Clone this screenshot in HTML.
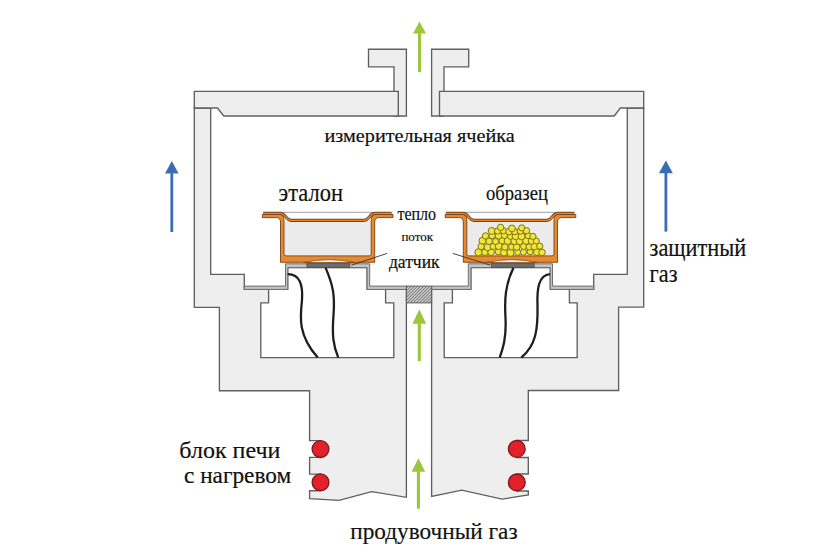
<!DOCTYPE html>
<html><head><meta charset="utf-8"><style>
html,body{margin:0;padding:0;background:#fff;}
svg{display:block;}
text{font-family:"Liberation Serif",serif;fill:#111;stroke:#111;stroke-width:0.2px;}
</style></head><body>
<svg width="840" height="560" viewBox="0 0 840 560">
<polygon points="194.30,108.00 210.70,108.00 210.70,274.30 244.30,274.30 244.30,289.40 406.40,289.40 406.40,497.30 371.70,491.70 339.00,500.30 309.60,498.70 309.60,490.70 320.50,490.70 320.50,474.10 309.60,474.10 309.60,457.40 320.50,457.40 320.50,440.60 309.60,440.60 309.60,390.70 219.40,390.70 219.40,307.40 194.30,307.40" fill="#eeeeee" stroke="#606060" stroke-width="1.35" stroke-linejoin="miter"/>
<polygon points="643.70,108.00 627.30,108.00 627.30,274.30 593.70,274.30 593.70,289.40 431.60,289.40 431.60,496.50 461.80,490.10 502.00,499.10 528.30,495.00 528.30,491.00 516.80,491.00 516.80,474.00 528.30,474.00 528.30,457.50 516.80,457.50 516.80,440.50 528.30,440.50 528.30,390.50 618.60,390.50 618.60,307.10 643.70,307.10" fill="#eeeeee" stroke="#606060" stroke-width="1.35" stroke-linejoin="miter"/>
<polygon points="268.60,289.40 287.70,289.40 287.70,267.60 367.10,267.60 367.10,289.40 385.60,289.40 385.60,302.90 393.80,302.90 393.80,357.60 260.80,357.60 260.80,302.80 268.60,302.80" fill="#fff" stroke="#606060" stroke-width="1.35"/>
<polygon points="569.40,289.40 550.30,289.40 550.30,267.60 470.90,267.60 470.90,289.40 452.40,289.40 452.40,302.90 444.20,302.90 444.20,357.60 577.20,357.60 577.20,302.80 569.40,302.80" fill="#fff" stroke="#606060" stroke-width="1.35"/>
<polygon points="368.50,49.20 406.40,49.20 406.40,116.00 394.00,116.00 394.00,66.80 368.50,66.80" fill="#eeeeee" stroke="#606060" stroke-width="1.35"/>
<polygon points="468.70,49.20 431.60,49.20 431.60,116.00 444.00,116.00 444.00,66.80 468.70,66.80" fill="#eeeeee" stroke="#606060" stroke-width="1.35"/>
<polygon points="194.30,91.30 398.30,91.30 398.30,116.00 223.75,116.00 217.50,108.00 194.30,108.00" fill="#eeeeee" stroke="#606060" stroke-width="1.35"/>
<polygon points="643.70,91.30 439.50,91.30 439.50,116.00 614.20,116.00 620.40,108.00 643.70,108.00" fill="#eeeeee" stroke="#606060" stroke-width="1.35"/>
<polygon points="244.30,286.10 285.50,286.10 285.50,263.80 369.70,263.80 369.70,286.10 406.40,286.10 406.40,289.40 367.10,289.40 367.10,267.60 287.80,267.60 287.80,289.40 244.30,289.40" fill="#c4c4c4" stroke="#6e6e6e" stroke-width="1"/>
<polygon points="593.70,286.10 552.50,286.10 552.50,263.80 468.30,263.80 468.30,286.10 431.60,286.10 431.60,289.40 470.90,289.40 470.90,267.60 550.20,267.60 550.20,289.40 593.70,289.40" fill="#c4c4c4" stroke="#6e6e6e" stroke-width="1"/>
<rect x="306.9" y="263.6" width="42.9" height="4" fill="#6c6c6c" stroke="#444" stroke-width="0.6"/>
<rect x="491.3" y="263.6" width="42.9" height="4" fill="#6c6c6c" stroke="#444" stroke-width="0.6"/>
<defs><pattern id="hatch" patternUnits="userSpaceOnUse" width="2.2" height="2.2" patternTransform="rotate(45)"><rect width="2.2" height="2.2" fill="#cacaca"/><line x1="0" y1="0" x2="0" y2="2.2" stroke="#484848" stroke-width="1.05"/></pattern></defs>
<rect x="406.4" y="286.1" width="25.2" height="16.8" fill="url(#hatch)" stroke="#606060" stroke-width="1"/>
<path d="M287.7,274.1 C300,274 303,285 302,300 C300,318 298,335 317.7,357.6" fill="none" stroke="#1e1e1e" stroke-width="2.3"/>
<path d="M325.6,267.9 C333,285 335,295 333.5,315 C332,335 333,345 338.3,357.6" fill="none" stroke="#1e1e1e" stroke-width="2.3"/>
<path d="M513.4,267.9 C505,285 504.5,300 505.5,318 C506.5,338 503,348 499.7,357.6" fill="none" stroke="#1e1e1e" stroke-width="2.3"/>
<path d="M550.1,274.1 C538,275 537,290 537.5,305 C538,330 536,345 521.3,357.6" fill="none" stroke="#1e1e1e" stroke-width="2.3"/>
<g transform="translate(327.6,0)">
<rect x="-44" y="221" width="88" height="36" fill="#ebebeb"/>
<line x1="-45" y1="212.3" x2="45" y2="212.3" stroke="#8d969e" stroke-width="0.9"/>
<path d="M-65.2,214.4 H-49 Q-43.6,214.4 -43.6,220 V253.9 Q-43.6,255.9 -41.6,255.9 H41.6 Q43.6,255.9 43.6,253.9 V220 Q43.6,214.4 49,214.4 H65.4 V217.6 H51.5 Q47.1,217.6 47.1,222 V262.3 H-47.1 V222 Q-47.1,217.6 -51.5,217.6 H-65.2 Z" fill="#e8892e" stroke="#74421a" stroke-width="0.9"/>
<path d="M-24,262.5 Q1.5,256.8 27,262.5 Z" fill="#f6f1ea" stroke="#74421a" stroke-width="0.7"/>
<path d="M-64.5,213.3 H-47 C-42,213.3 -42,220.35 -36.5,220.35 H36.5 C42,220.35 42,213.3 47,213.3 H64" fill="none" stroke="#74421a" stroke-width="3.1"/>
<path d="M-64.5,213.3 H-47 C-42,213.3 -42,220.35 -36.5,220.35 H36.5 C42,220.35 42,213.3 47,213.3 H64" fill="none" stroke="#e8892e" stroke-width="1.3"/>
</g>
<g transform="translate(510.4,0)">
<rect x="-44" y="221" width="88" height="36" fill="#ebebeb"/>
<line x1="-45" y1="212.3" x2="45" y2="212.3" stroke="#8d969e" stroke-width="0.9"/>
<path d="M-65.2,214.4 H-49 Q-43.6,214.4 -43.6,220 V253.9 Q-43.6,255.9 -41.6,255.9 H41.6 Q43.6,255.9 43.6,253.9 V220 Q43.6,214.4 49,214.4 H65.4 V217.6 H51.5 Q47.1,217.6 47.1,222 V262.3 H-47.1 V222 Q-47.1,217.6 -51.5,217.6 H-65.2 Z" fill="#e8892e" stroke="#74421a" stroke-width="0.9"/>
<path d="M-24,262.5 Q1.5,256.8 27,262.5 Z" fill="#f6f1ea" stroke="#74421a" stroke-width="0.7"/>
<path d="M-64.5,213.3 H-47 C-42,213.3 -42,220.35 -36.5,220.35 H36.5 C42,220.35 42,213.3 47,213.3 H64" fill="none" stroke="#74421a" stroke-width="3.1"/>
<path d="M-64.5,213.3 H-47 C-42,213.3 -42,220.35 -36.5,220.35 H36.5 C42,220.35 42,213.3 47,213.3 H64" fill="none" stroke="#e8892e" stroke-width="1.3"/>
</g>
<circle cx="478.4" cy="252.3" r="3.55" fill="#f2e53c" stroke="#7c7614" stroke-width="1"/>
<circle cx="485.0" cy="252.2" r="3.35" fill="#f2e53c" stroke="#7c7614" stroke-width="1"/>
<circle cx="491.1" cy="252.2" r="3.38" fill="#f2e53c" stroke="#7c7614" stroke-width="1"/>
<circle cx="498.4" cy="251.7" r="3.18" fill="#f2e53c" stroke="#7c7614" stroke-width="1"/>
<circle cx="504.0" cy="252.6" r="3.42" fill="#f2e53c" stroke="#7c7614" stroke-width="1"/>
<circle cx="510.5" cy="252.8" r="3.58" fill="#f2e53c" stroke="#7c7614" stroke-width="1"/>
<circle cx="517.7" cy="252.3" r="3.09" fill="#f2e53c" stroke="#7c7614" stroke-width="1"/>
<circle cx="523.4" cy="252.2" r="3.04" fill="#f2e53c" stroke="#7c7614" stroke-width="1"/>
<circle cx="530.1" cy="251.9" r="3.02" fill="#f2e53c" stroke="#7c7614" stroke-width="1"/>
<circle cx="537.0" cy="252.1" r="3.51" fill="#f2e53c" stroke="#7c7614" stroke-width="1"/>
<circle cx="542.0" cy="252.4" r="3.30" fill="#f2e53c" stroke="#7c7614" stroke-width="1"/>
<circle cx="481.2" cy="246.5" r="3.17" fill="#f2e53c" stroke="#7c7614" stroke-width="1"/>
<circle cx="487.6" cy="247.2" r="3.50" fill="#f2e53c" stroke="#7c7614" stroke-width="1"/>
<circle cx="493.2" cy="246.4" r="3.14" fill="#f2e53c" stroke="#7c7614" stroke-width="1"/>
<circle cx="498.7" cy="246.1" r="3.46" fill="#f2e53c" stroke="#7c7614" stroke-width="1"/>
<circle cx="504.9" cy="247.0" r="3.23" fill="#f2e53c" stroke="#7c7614" stroke-width="1"/>
<circle cx="511.5" cy="247.0" r="3.00" fill="#f2e53c" stroke="#7c7614" stroke-width="1"/>
<circle cx="516.7" cy="247.1" r="3.28" fill="#f2e53c" stroke="#7c7614" stroke-width="1"/>
<circle cx="523.6" cy="246.5" r="3.04" fill="#f2e53c" stroke="#7c7614" stroke-width="1"/>
<circle cx="529.2" cy="246.9" r="3.16" fill="#f2e53c" stroke="#7c7614" stroke-width="1"/>
<circle cx="534.5" cy="246.4" r="3.58" fill="#f2e53c" stroke="#7c7614" stroke-width="1"/>
<circle cx="539.8" cy="246.1" r="3.15" fill="#f2e53c" stroke="#7c7614" stroke-width="1"/>
<circle cx="482.5" cy="240.7" r="3.48" fill="#f2e53c" stroke="#7c7614" stroke-width="1"/>
<circle cx="489.1" cy="241.3" r="3.27" fill="#f2e53c" stroke="#7c7614" stroke-width="1"/>
<circle cx="495.6" cy="241.5" r="3.08" fill="#f2e53c" stroke="#7c7614" stroke-width="1"/>
<circle cx="502.2" cy="240.7" r="3.25" fill="#f2e53c" stroke="#7c7614" stroke-width="1"/>
<circle cx="507.7" cy="240.9" r="3.58" fill="#f2e53c" stroke="#7c7614" stroke-width="1"/>
<circle cx="514.4" cy="241.0" r="3.53" fill="#f2e53c" stroke="#7c7614" stroke-width="1"/>
<circle cx="519.7" cy="241.1" r="3.51" fill="#f2e53c" stroke="#7c7614" stroke-width="1"/>
<circle cx="526.2" cy="240.7" r="3.59" fill="#f2e53c" stroke="#7c7614" stroke-width="1"/>
<circle cx="531.7" cy="240.9" r="3.46" fill="#f2e53c" stroke="#7c7614" stroke-width="1"/>
<circle cx="536.3" cy="241.0" r="3.04" fill="#f2e53c" stroke="#7c7614" stroke-width="1"/>
<circle cx="485.5" cy="235.9" r="3.15" fill="#f2e53c" stroke="#7c7614" stroke-width="1"/>
<circle cx="492.1" cy="235.6" r="3.27" fill="#f2e53c" stroke="#7c7614" stroke-width="1"/>
<circle cx="498.6" cy="235.8" r="3.34" fill="#f2e53c" stroke="#7c7614" stroke-width="1"/>
<circle cx="504.4" cy="235.4" r="3.09" fill="#f2e53c" stroke="#7c7614" stroke-width="1"/>
<circle cx="510.5" cy="236.2" r="3.15" fill="#f2e53c" stroke="#7c7614" stroke-width="1"/>
<circle cx="515.6" cy="236.1" r="3.56" fill="#f2e53c" stroke="#7c7614" stroke-width="1"/>
<circle cx="521.6" cy="236.3" r="3.53" fill="#f2e53c" stroke="#7c7614" stroke-width="1"/>
<circle cx="528.1" cy="235.7" r="3.06" fill="#f2e53c" stroke="#7c7614" stroke-width="1"/>
<circle cx="532.9" cy="236.4" r="3.14" fill="#f2e53c" stroke="#7c7614" stroke-width="1"/>
<circle cx="491.7" cy="230.9" r="3.49" fill="#f2e53c" stroke="#7c7614" stroke-width="1"/>
<circle cx="497.6" cy="231.0" r="3.11" fill="#f2e53c" stroke="#7c7614" stroke-width="1"/>
<circle cx="503.3" cy="230.7" r="3.14" fill="#f2e53c" stroke="#7c7614" stroke-width="1"/>
<circle cx="509.1" cy="231.6" r="3.37" fill="#f2e53c" stroke="#7c7614" stroke-width="1"/>
<circle cx="514.7" cy="231.7" r="3.12" fill="#f2e53c" stroke="#7c7614" stroke-width="1"/>
<circle cx="520.4" cy="230.9" r="3.27" fill="#f2e53c" stroke="#7c7614" stroke-width="1"/>
<circle cx="526.5" cy="230.8" r="3.22" fill="#f2e53c" stroke="#7c7614" stroke-width="1"/>
<circle cx="500.6" cy="227.4" r="3.22" fill="#f2e53c" stroke="#7c7614" stroke-width="1"/>
<circle cx="512.0" cy="228.4" r="3.39" fill="#f2e53c" stroke="#7c7614" stroke-width="1"/>
<circle cx="521.7" cy="227.9" r="3.08" fill="#f2e53c" stroke="#7c7614" stroke-width="1"/>
<line x1="387.1" y1="253.4" x2="351.4" y2="265.2" stroke="#333" stroke-width="0.9"/>
<line x1="452.9" y1="253.4" x2="490.4" y2="265.2" stroke="#333" stroke-width="0.9"/>
<circle cx="320.5" cy="449.1" r="8.4" fill="#e3212b" stroke="#7a1818" stroke-width="1.3"/>
<circle cx="320.5" cy="482.3" r="8.4" fill="#e3212b" stroke="#7a1818" stroke-width="1.3"/>
<circle cx="516.8" cy="448.9" r="8.4" fill="#e3212b" stroke="#7a1818" stroke-width="1.3"/>
<circle cx="516.8" cy="482.4" r="8.4" fill="#e3212b" stroke="#7a1818" stroke-width="1.3"/>
<polygon points="413.0,33.6 419.5,21.4 426.0,33.6" fill="#9dc63c"/><rect x="417.95" y="33.1" width="3.1" height="38.99999999999999" fill="#9dc63c"/>
<polygon points="412.5,323.7 419.3,309.3 426.1,323.7" fill="#9dc63c"/><rect x="417.75" y="323.2" width="3.1" height="38.0" fill="#9dc63c"/>
<polygon points="411.59999999999997,471.7 418.4,458.3 425.2,471.7" fill="#9dc63c"/><rect x="416.84999999999997" y="471.2" width="3.1" height="37.5" fill="#9dc63c"/>
<polygon points="165.0,173.6 171.8,161 178.60000000000002,173.6" fill="#3b6db3"/><rect x="170.4" y="173.1" width="2.8" height="58.900000000000006" fill="#3b6db3"/>
<polygon points="658.9,173.3 665.9,160.4 672.9,173.3" fill="#3b6db3"/><rect x="664.5" y="172.8" width="2.8" height="58.79999999999998" fill="#3b6db3"/>
<text x="0" y="0" font-size="19" transform="translate(324.5,142.0) scale(1.065,1)">измерительная ячейка</text><text x="0" y="0" font-size="25" transform="translate(278.6,200.5) scale(0.9,1)">эталон</text><text x="0" y="0" font-size="20" transform="translate(486,199.7) scale(0.93,1)">образец</text><text x="0" y="0" font-size="18" transform="translate(397.4,220.0) scale(0.89,1)">тепло</text><text x="0" y="0" font-size="13" transform="translate(401.4,241.1) scale(1.0,1)">поток</text><text x="0" y="0" font-size="18.5" transform="translate(388.9,267.8) scale(0.95,1)">датчик</text><text x="0" y="0" font-size="24.5" transform="translate(649.6,256.0) scale(0.913,1)">защитный</text><text x="0" y="0" font-size="24.5" transform="translate(649.6,281.5) scale(0.913,1)">газ</text><text x="0" y="0" font-size="24" transform="translate(179.3,457.9) scale(1.0,1)">блок печи</text><text x="0" y="0" font-size="23.5" transform="translate(184,483.0) scale(0.99,1)">с нагревом</text><text x="0" y="0" font-size="23.5" transform="translate(350.2,539.0) scale(0.99,1)">продувочный газ</text>
</svg>
</body></html>
